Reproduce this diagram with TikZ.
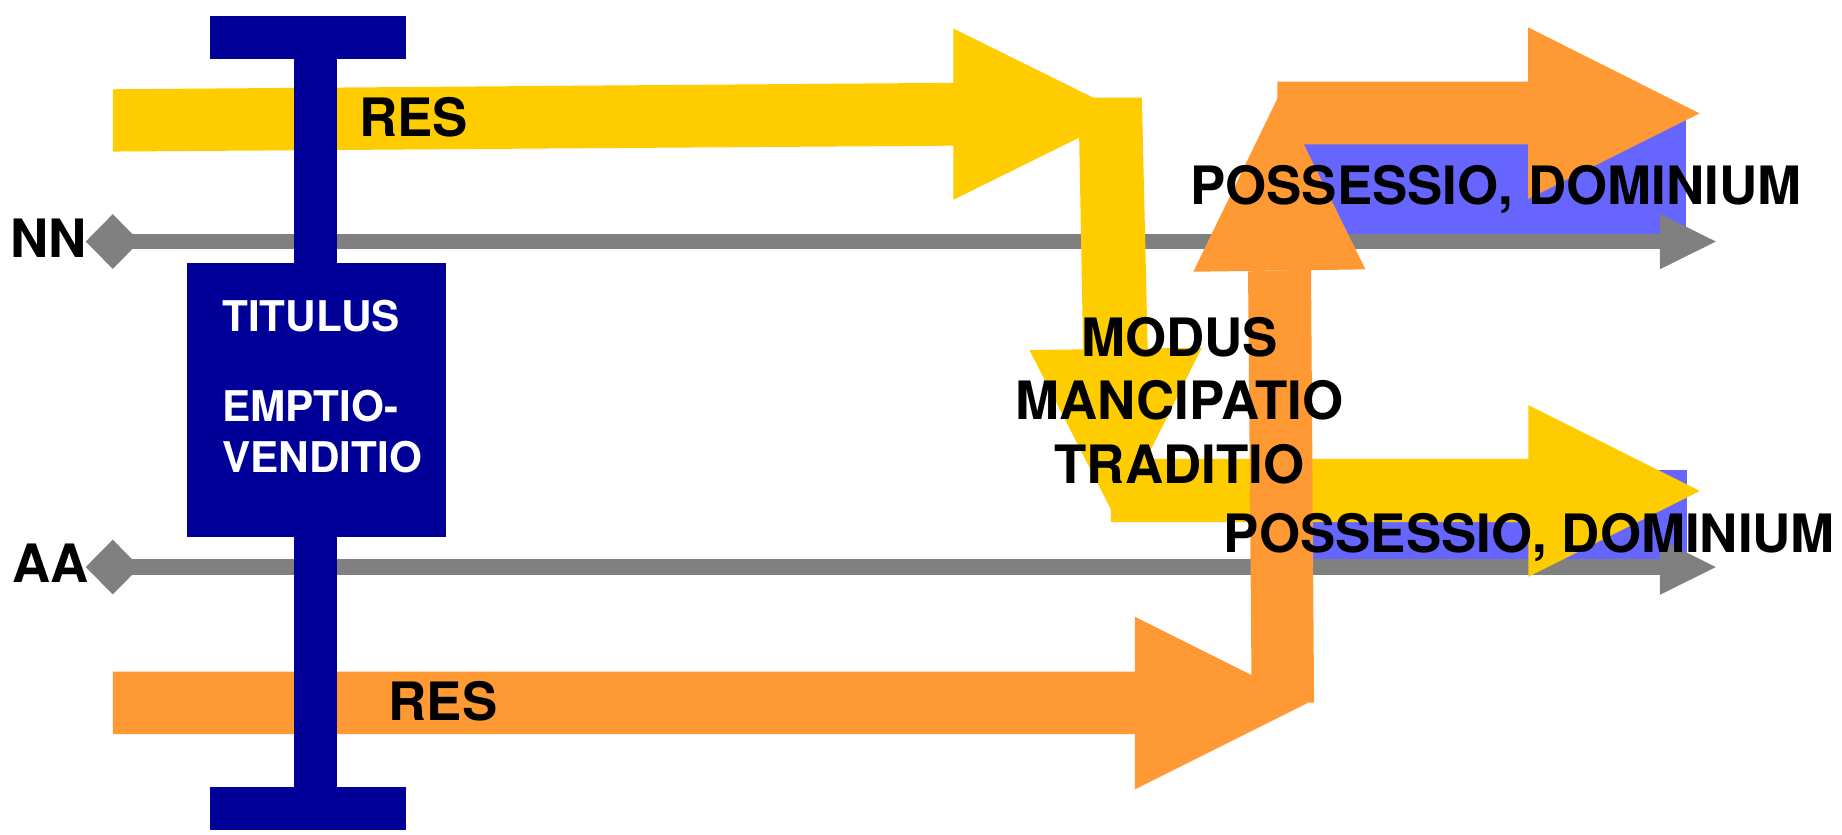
\documentclass[tikz,border=0pt]{standalone}
\usepackage{fontspec}
\setmainfont{TeX Gyre Heros}
\definecolor{ryellow}{HTML}{FFCC00}
\definecolor{rorange}{HTML}{FF9933}
\definecolor{rnavy}{HTML}{000099}
\definecolor{rlblue}{HTML}{6666FF}
\definecolor{rgray}{HTML}{808080}
\begin{document}
\begin{tikzpicture}[x=1pt,y=-1pt,
  yel/.style={fill=ryellow},
  ora/.style={fill=rorange},
  navy/.style={fill=rnavy},
  lblue/.style={fill=rlblue},
  grayfill/.style={fill=rgray},
  lbl/.style={inner sep=0pt, font=\fontsize{45}{54}\selectfont\bfseries, text=black},
  wlbl/.style={inner sep=0pt, font=\fontsize{36}{43}\selectfont\bfseries, text=white}]
\fill[white] (0,0) rectangle (1568,710);
\useasboundingbox (0,0) rectangle (1568,710);
% light blue panels
\path[lblue] (1100,100) rectangle (1435.3,206);
\path[lblue] (1100,400) rectangle (1435.8,483);
% gray time lines
\foreach \yy in {205.6,482.7}{
  \path[grayfill] (73,\yy) -- (96,\yy-23.3) -- (119,\yy) -- (96,\yy+23.3) -- cycle;
  \path[grayfill] (100,\yy-6.5) rectangle (1413,\yy+6.5);
  \path[grayfill] (1413,\yy-23.6) -- (1460.6,\yy) -- (1413,\yy+23.6) -- cycle;
}
% yellow path
\path[yel] (96,76) -- (811.6,70.5) -- (811.6,24.3) -- (959,97.2) -- (811.6,170) -- (811.6,124) -- (96,129) -- cycle;
\path[yel] (918,83) -- (972,83) -- (977,298) -- (922,298) -- cycle;
\path[yel] (876.3,298) -- (1023,296) -- (950,442) -- cycle;
\path[yel] (945.6,390.6) -- (1301,390.6) -- (1301,344.8) -- (1447,418) -- (1301,491) -- (1301,444.4) -- (945.6,444.4) -- cycle;
% orange path
\path[ora] (96,571.8) -- (966,571.8) -- (966,525) -- (1113,598.5) -- (966,672) -- (966,625) -- (96,625) -- cycle;
\path[ora] (1065.5,598.2) -- (1118.6,598.2) -- (1116,229.5) -- (1062.4,231) -- cycle;
\path[ora] (1015.8,231.3) -- (1162.3,229.3) -- (1089,80.5) -- cycle;
\path[ora] (1087.3,69.5) -- (1300.8,69.5) -- (1300.8,23.3) -- (1446.7,96.5) -- (1300.8,169.4) -- (1300.8,122.9) -- (1087.3,122.9) -- cycle;
% blue I-beam
\path[navy] (178.9,13.6) rectangle (346,49.8);
\path[navy] (250.5,49) rectangle (286.7,671);
\path[navy] (159.3,223.7) rectangle (379.9,457.3);
\path[navy] (178.9,670) rectangle (346,706.4);
% texts
\node[lbl, anchor=base west] (resTop) at (305.6,116) {RES};
\node[lbl, anchor=base west] (resBot) at (330.7,613.5) {RES};
\node[lbl, anchor=base west] (nn) at (8.7,219.5) {NN};
\node[lbl, anchor=base west] (aa) at (10.7,496) {AA};
\node[wlbl, anchor=base west] (tit) at (189,282) {TITULUS};
\node[wlbl, anchor=base west] (emp) at (189,359) {EMPTIO-};
\node[wlbl, anchor=base west] (ven) at (189,402) {VENDITIO};
\node[lbl, anchor=base] (modus) at (1004,303.6) {MODUS};
\node[lbl, anchor=base] (manc) at (1004,357.5) {MANCIPATIO};
\node[lbl, anchor=base] (trad) at (1004,411.5) {TRADITIO};
\node[lbl, anchor=base west] (posTop) at (1013,174.5) {POSSESSIO, DOMINIUM};
\node[lbl, anchor=base west] (posBot) at (1041.7,470.5) {POSSESSIO, DOMINIUM};
\end{tikzpicture}
\end{document}
